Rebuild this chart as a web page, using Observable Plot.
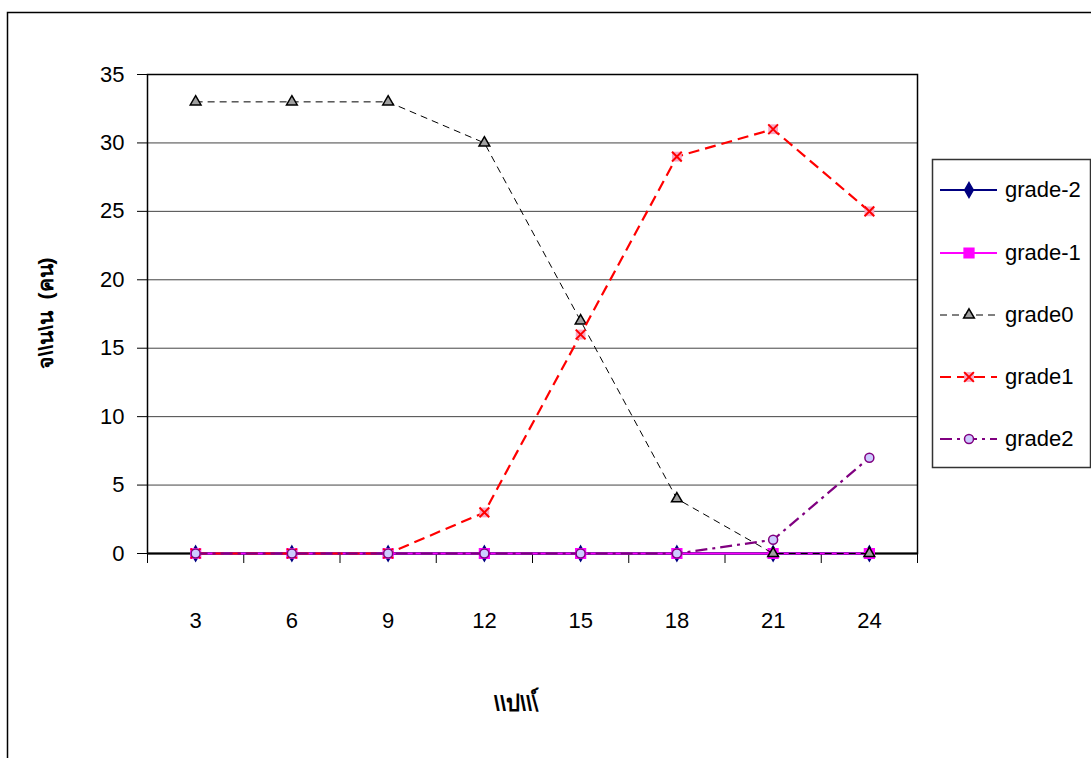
<!DOCTYPE html>
<html>
<head>
<meta charset="utf-8">
<script src="https://cdn.jsdelivr.net/npm/d3@7"></script>
<script src="https://cdn.jsdelivr.net/npm/@observablehq/plot@0.6"></script>
<style>
  body { margin: 0; background: #fff; }
  #chart { position: relative; width: 1091px; height: 758px; overflow: hidden; }
</style>
</head>
<body>
<div id="chart"></div>
<script>
// Survey months (category axis) and head counts per grade
const months = [3, 6, 9, 12, 15, 18, 21, 24];
const gradeMinus2 = [0, 0, 0, 0, 0, 0, 0, 0];
const gradeMinus1 = [0, 0, 0, 0, 0, 0, 0, 0];
const grade0 = [33, 33, 33, 30, 17, 4, 0, 0];
const grade1 = [0, 0, 0, 3, 16, 29, 31, 25];
const grade2 = [0, 0, 0, 0, 0, 0, 1, 7];
const seriesNames = ["grade-2", "grade-1", "grade0", "grade1", "grade2"];
const yTicks = [0, 5, 10, 15, 20, 25, 30, 35];
const yTitle = "จ\\\\น\\น  (คน)";
const xTitle = "\\\\ป\\\\\\์";

// Line / marker styling per series
const styles = {
  "grade-2": {stroke: "#000080", width: 2, dash: null, symbol: "diamond", fill: "#000080", mstroke: "#000080", r: 4.5},
  "grade-1": {stroke: "#ff00ff", width: 2.2, dash: null, symbol: "square", fill: "#ff00ff", mstroke: "#ff00ff", r: 5.5},
  "grade0":  {stroke: "#000000", width: 1, dash: "7,5", symbol: "triangle", fill: "#a0a0a0", mstroke: "#000000", r: 4},
  "grade1":  {stroke: "#ff0000", width: 2.2, dash: "11,6", symbol: "times", fill: "#f7a6c4", mstroke: "#ff0000", r: 4.5},
  "grade2":  {stroke: "#800080", width: 2.2, dash: "12,5,3,5", symbol: "circle", fill: "#ccccff", mstroke: "#800080", r: 4.5}
};

const seriesValues = [gradeMinus2, gradeMinus1, grade0, grade1, grade2];
const rows = seriesNames.flatMap((name, i) =>
  months.map((m, j) => ({series: name, month: m, value: seriesValues[i][j]}))
);

// Category boundaries (ticks sit between categories)
const step = months[1] - months[0];
const boundaries = months.map(m => m - step / 2).concat(months[months.length - 1] + step / 2);

const seriesMarks = seriesNames.flatMap(name => {
  const s = styles[name];
  const data = rows.filter(d => d.series === name);
  const marks = [
    Plot.line(data, {x: "month", y: "value", stroke: s.stroke, strokeWidth: s.width,
      strokeDasharray: s.dash, strokeLinecap: "butt"})
  ];
  if (s.symbol === "times") {
    marks.push(Plot.dot(data, {x: "month", y: "value", symbol: "square", r: 5.5, fill: s.fill, stroke: "none"}));
    marks.push(Plot.dot(data, {x: "month", y: "value", symbol: "times", r: s.r, stroke: s.mstroke, strokeWidth: 2}));
  } else {
    marks.push(Plot.dot(data, {x: "month", y: "value", symbol: s.symbol, r: s.r, fill: s.fill,
      stroke: s.mstroke, strokeWidth: 1.5}));
  }
  return marks;
});

const svg = Plot.plot({
  width: 1091,
  height: 758,
  marginLeft: 147,
  marginRight: 174,
  marginTop: 74,
  marginBottom: 205,
  style: {fontFamily: "'Liberation Sans', Arial, sans-serif", fontSize: "22px", color: "#000", background: "transparent"},
  x: {domain: [boundaries[0], boundaries[boundaries.length - 1]]},
  y: {domain: [0, 35]},
  marks: [
    Plot.ruleY(yTicks.filter(d => d > 0 && d < 35), {stroke: "#444", strokeWidth: 1}),
    Plot.axisY({ticks: yTicks, tickSize: 10, tickPadding: 13, label: null, fontSize: 22}),
    Plot.axisX({ticks: boundaries, tickSize: 10, tickFormat: () => "", label: null}),
    Plot.axisX({ticks: months, tickSize: 0, tickPadding: 59, label: null, fontSize: 22}),
    Plot.frame({stroke: "#000", strokeWidth: 1.5}),
    Plot.ruleY([0], {stroke: "#000", strokeWidth: 2}),
    ...seriesMarks
  ]
});

document.getElementById("chart").appendChild(svg);

const root = d3.select(svg);

// Chart-area border
root.insert("rect", ":first-child")
  .attr("x", 7.5).attr("y", 12.5).attr("width", 1200).attr("height", 900)
  .attr("fill", "none").attr("stroke", "#000").attr("stroke-width", 1.5);

// Axis titles
root.append("text")
  .attr("transform", "translate(47,313) rotate(-90)")
  .attr("text-anchor", "middle").attr("dominant-baseline", "middle")
  .attr("font-weight", "bold").attr("font-size", 21)
  .text(yTitle);
root.append("text")
  .attr("x", 516).attr("y", 705)
  .attr("text-anchor", "middle").attr("dominant-baseline", "middle")
  .attr("font-weight", "bold").attr("font-size", 22)
  .text(xTitle);

// Legend
const symbolTypes = {
  diamond: d3.symbolDiamond, square: d3.symbolSquare, triangle: d3.symbolTriangle,
  times: d3.symbolTimes, circle: d3.symbolCircle
};
const legend = root.append("g");
legend.append("rect")
  .attr("x", 932.5).attr("y", 159.5).attr("width", 158).attr("height", 308)
  .attr("fill", "#fff").attr("stroke", "#333").attr("stroke-width", 1.5);
const rowY = [190, 253, 315, 377, 439];
seriesNames.forEach((name, i) => {
  const s = styles[name];
  const g = legend.append("g").attr("transform", `translate(0,${rowY[i]})`);
  g.append("line").attr("x1", 940).attr("x2", 997)
    .attr("stroke", s.stroke).attr("stroke-width", s.width)
    .attr("stroke-dasharray", s.dash);
  const sym = d3.symbol();
  if (s.symbol === "times") {
    g.append("path").attr("transform", "translate(969,0)")
      .attr("d", sym.type(d3.symbolSquare).size(Math.PI * 5.5 * 5.5)()).attr("fill", s.fill);
    g.append("path").attr("transform", "translate(969,0)")
      .attr("d", sym.type(d3.symbolTimes).size(Math.PI * s.r * s.r)())
      .attr("fill", "none").attr("stroke", s.mstroke).attr("stroke-width", 2);
  } else {
    g.append("path").attr("transform", "translate(969,0)")
      .attr("d", sym.type(symbolTypes[s.symbol]).size(Math.PI * s.r * s.r)())
      .attr("fill", s.fill).attr("stroke", s.mstroke).attr("stroke-width", 1.5);
  }
  g.append("text")
    .attr("x", 1005).attr("y", 1)
    .attr("text-anchor", "start")
    .attr("dominant-baseline", "middle").attr("font-size", 22)
    .text(name);
});
</script>
</body>
</html>
